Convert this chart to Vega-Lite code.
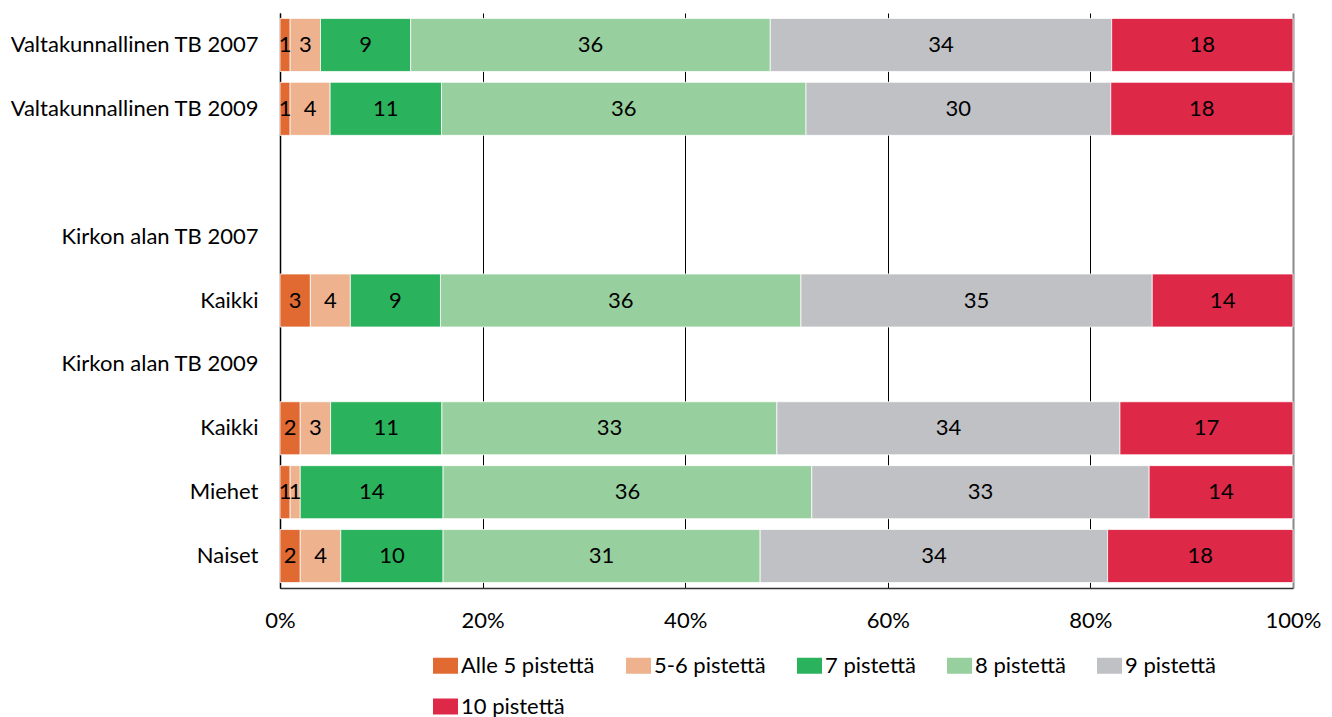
{
  "$schema": "https://vega.github.io/schema/vega-lite/v6.json",
  "width": 1013,
  "height": 575,
  "autosize": "none",
  "padding": {"left": 280, "top": 13, "right": 39, "bottom": 129},
  "background": "white",
  "config": {
    "font": "Lato",
    "view": {"stroke": null},
    "axis": {"labelFont": "Lato", "labelColor": "black", "labelFontSize": 22}
  },
  "data": {
    "values": [
      {"row": "r1", "category": "Alle 5 pistettä", "order": 1, "share": 1.0, "label": "1"},
      {"row": "r1", "category": "5-6 pistettä", "order": 2, "share": 3.0, "label": "3"},
      {"row": "r1", "category": "7 pistettä", "order": 3, "share": 8.9, "label": "9"},
      {"row": "r1", "category": "8 pistettä", "order": 4, "share": 35.5, "label": "36"},
      {"row": "r1", "category": "9 pistettä", "order": 5, "share": 33.7, "label": "34"},
      {"row": "r1", "category": "10 pistettä", "order": 6, "share": 17.9, "label": "18"},

      {"row": "r2", "category": "Alle 5 pistettä", "order": 1, "share": 1.0, "label": "1"},
      {"row": "r2", "category": "5-6 pistettä", "order": 2, "share": 3.95, "label": "4"},
      {"row": "r2", "category": "7 pistettä", "order": 3, "share": 11.0, "label": "11"},
      {"row": "r2", "category": "8 pistettä", "order": 4, "share": 36.0, "label": "36"},
      {"row": "r2", "category": "9 pistettä", "order": 5, "share": 30.1, "label": "30"},
      {"row": "r2", "category": "10 pistettä", "order": 6, "share": 18.0, "label": "18"},

      {"row": "r5", "category": "Alle 5 pistettä", "order": 1, "share": 3.0, "label": "3"},
      {"row": "r5", "category": "5-6 pistettä", "order": 2, "share": 3.95, "label": "4"},
      {"row": "r5", "category": "7 pistettä", "order": 3, "share": 8.9, "label": "9"},
      {"row": "r5", "category": "8 pistettä", "order": 4, "share": 35.6, "label": "36"},
      {"row": "r5", "category": "9 pistettä", "order": 5, "share": 34.7, "label": "35"},
      {"row": "r5", "category": "10 pistettä", "order": 6, "share": 13.9, "label": "14"},

      {"row": "r7", "category": "Alle 5 pistettä", "order": 1, "share": 2.0, "label": "2"},
      {"row": "r7", "category": "5-6 pistettä", "order": 2, "share": 3.0, "label": "3"},
      {"row": "r7", "category": "7 pistettä", "order": 3, "share": 11.0, "label": "11"},
      {"row": "r7", "category": "8 pistettä", "order": 4, "share": 33.1, "label": "33"},
      {"row": "r7", "category": "9 pistettä", "order": 5, "share": 33.9, "label": "34"},
      {"row": "r7", "category": "10 pistettä", "order": 6, "share": 17.1, "label": "17"},

      {"row": "r8", "category": "Alle 5 pistettä", "order": 1, "share": 1.0, "label": "1"},
      {"row": "r8", "category": "5-6 pistettä", "order": 2, "share": 1.0, "label": "1"},
      {"row": "r8", "category": "7 pistettä", "order": 3, "share": 14.1, "label": "14"},
      {"row": "r8", "category": "8 pistettä", "order": 4, "share": 36.4, "label": "36"},
      {"row": "r8", "category": "9 pistettä", "order": 5, "share": 33.3, "label": "33"},
      {"row": "r8", "category": "10 pistettä", "order": 6, "share": 14.2, "label": "14"},

      {"row": "r9", "category": "Alle 5 pistettä", "order": 1, "share": 2.0, "label": "2"},
      {"row": "r9", "category": "5-6 pistettä", "order": 2, "share": 4.0, "label": "4"},
      {"row": "r9", "category": "7 pistettä", "order": 3, "share": 10.1, "label": "10"},
      {"row": "r9", "category": "8 pistettä", "order": 4, "share": 31.3, "label": "31"},
      {"row": "r9", "category": "9 pistettä", "order": 5, "share": 34.3, "label": "34"},
      {"row": "r9", "category": "10 pistettä", "order": 6, "share": 18.3, "label": "18"}
    ]
  },
  "encoding": {
    "y": {
      "field": "row",
      "type": "nominal",
      "title": null,
      "scale": {
        "domain": ["r1", "r2", "r3", "r4", "r5", "r6", "r7", "r8", "r9"],
        "paddingInner": 0.17,
        "paddingOuter": 0.085
      },
      "axis": {
        "domain": true,
        "domainColor": "black",
        "domainWidth": 1.5,
        "ticks": false,
        "labelPadding": 22,
        "labelLimit": 400,
        "labelExpr": "{'r1':'Valtakunnallinen TB 2007','r2':'Valtakunnallinen TB 2009','r3':'','r4':'Kirkon alan TB 2007','r5':'Kaikki','r6':'Kirkon alan TB 2009','r7':'Kaikki','r8':'Miehet','r9':'Naiset'}[datum.value]"
      }
    }
  },
  "layer": [
    {
      "mark": {"type": "bar", "stroke": "white", "strokeWidth": 0.75},
      "encoding": {
        "x": {
          "field": "share",
          "type": "quantitative",
          "stack": "normalize",
          "title": null,
          "scale": {"domain": [0, 1], "nice": false},
          "axis": {
            "format": "%",
            "values": [0, 0.2, 0.4, 0.6, 0.8, 1],
            "grid": true,
            "gridColor": {"condition": {"test": "datum.value == 1", "value": "#8a8a8a"}, "value": "black"},
            "gridWidth": {"condition": {"test": "datum.value == 1", "value": 2}, "value": 1},
            "ticks": false,
            "labelFlush": false,
            "domainColor": "#333333",
            "domainWidth": 1.5,
            "labelPadding": 22
          }
        },
        "color": {
          "field": "category",
          "type": "nominal",
          "scale": {
            "domain": ["Alle 5 pistettä", "5-6 pistettä", "7 pistettä", "8 pistettä", "9 pistettä", "10 pistettä"],
            "range": ["#E06A32", "#EEB28F", "#2BB25D", "#97D09E", "#C0C1C5", "#DE2848"]
          },
          "legend": {
            "title": null,
            "orient": "none",
            "legendX": 153,
            "legendY": 640,
            "direction": "horizontal",
            "columns": 5,
            "columnPadding": 31,
            "rowPadding": 17,
            "symbolType": "M-1,-0.64H1V0.64H-1Z",
            "symbolSize": 625,
            "symbolStrokeWidth": 0,
            "labelFontSize": 22,
            "labelColor": "black",
            "labelOffset": 3,
            "labelLimit": 300
          }
        },
        "order": {"field": "order", "type": "quantitative"}
      }
    },
    {
      "transform": [
        {"stack": "share", "groupby": ["row"], "sort": [{"field": "order", "order": "ascending"}], "as": ["x0", "x1"], "offset": "normalize"},
        {"fold": ["x0", "x1"], "as": ["edge", "pos"]},
        {"aggregate": [{"op": "mean", "field": "pos", "as": "mid"}], "groupby": ["row", "order", "label"]}
      ],
      "mark": {"type": "text", "fontSize": 22, "color": "black", "align": "center", "baseline": "middle"},
      "encoding": {
        "x": {"field": "mid", "type": "quantitative"},
        "text": {"field": "label"}
      }
    }
  ]
}
